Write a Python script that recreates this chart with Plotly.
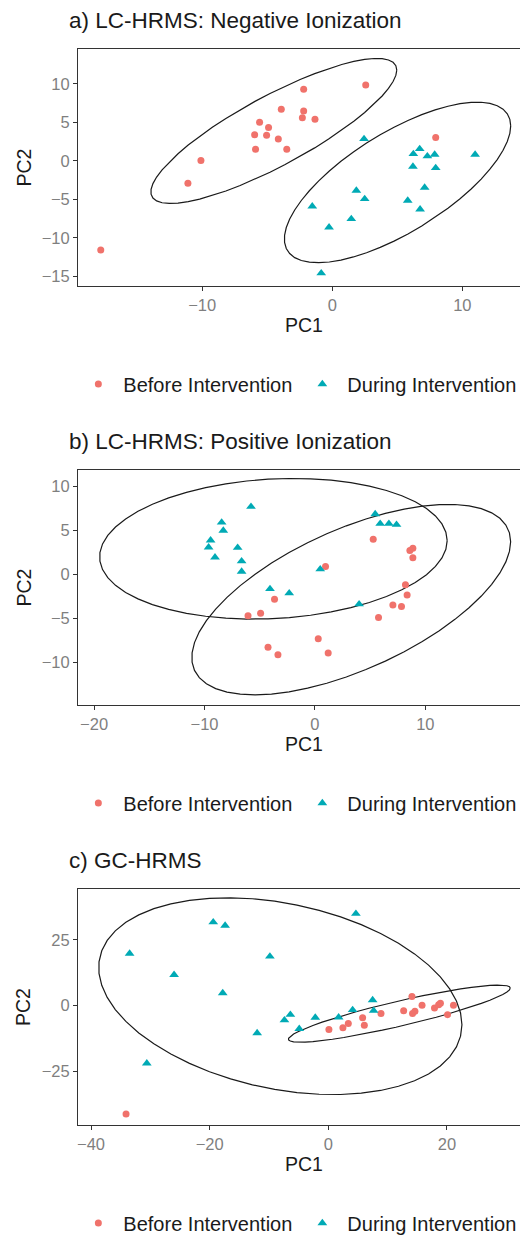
import numpy as np
import plotly.graph_objects as go

# ---------------- data ----------------
groups = ["Before Intervention", "During Intervention"]
titles = ["a) LC-HRMS: Negative Ionization", "b) LC-HRMS: Positive Ionization", "c) GC-HRMS"]

a_before_pc1 = [2.57, -2.2, -3.92, -2.2, -2.3, -1.33, -5.59, -4.9, -5.97, -5.05, -4.15, 7.95, -5.9, -3.5, -10.1, -11.1, -17.8]
a_before_pc2 = [9.86, 9.3, 6.73, 6.5, 5.6, 5.43, 5.04, 4.35, 3.39, 3.35, 2.83, 3.04, 1.52, 1.52, 0.05, -2.9, -11.6]
a_during_pc1 = [2.44, 6.72, 6.23, 7.31, 7.87, 10.98, 6.2, 7.95, 1.85, 7.1, 2.49, 5.8, -1.54, 6.75, 1.46, -0.25, -0.85]
a_during_pc2 = [2.86, 1.56, 0.91, 0.61, 0.83, 0.83, -0.73, -0.91, -3.86, -3.47, -4.95, -5.16, -5.9, -6.29, -7.55, -8.63, -14.6]

b_before_pc1 = [0.96, 5.28, 8.87, 8.6, 8.87, 8.2, 8.35, 7.06, 7.84, 5.76, -3.66, -4.92, -6.06, 0.3, 1.2, -4.25, -3.35]
b_before_pc2 = [0.87, 3.98, 2.95, 2.69, 1.89, -1.21, -2.35, -3.49, -3.67, -4.92, -2.84, -4.43, -4.74, -7.35, -8.98, -8.3, -9.17]
b_during_pc1 = [-5.79, 5.46, 5.91, 6.7, 7.39, -8.45, -8.3, -9.45, -9.63, -9.05, -7.0, -6.64, -6.64, 0.48, -4.07, -2.33, 4.0]
b_during_pc2 = [7.69, 6.86, 5.76, 5.76, 5.64, 5.9, 4.97, 3.86, 3.07, 1.93, 3.03, 1.48, 0.3, 0.57, -1.67, -2.16, -3.41]

c_before_pc1 = [-34.1, 0.1, 2.46, 3.37, 5.78, 6.07, 8.88, 12.7, 14.1, 14.2, 14.6, 15.8, 17.9, 18.6, 18.9, 20.1, 21.1]
c_before_pc2 = [-41.1, -9.0, -8.4, -6.8, -4.6, -7.4, -3.0, -1.9, 3.5, -3.0, -2.1, 0.15, -0.9, 0.4, 0.9, -3.4, 0.15]
c_during_pc1 = [4.65, -19.4, -17.4, -33.5, -9.85, -26.0, -17.8, 7.47, 7.64, 4.1, 1.74, -2.2, -6.4, -7.4, -4.9, -12.0, -30.6]
c_during_pc2 = [34.95, 31.7, 30.4, 19.8, 18.7, 11.7, 4.8, 2.15, -1.9, -1.6, -4.4, -4.5, -3.4, -5.5, -8.8, -10.4, -21.9]

x_ticks = [[-10, 0, 10], [-20, -10, 0, 10], [-40, -20, 0, 20]]
y_ticks = [[-15, -10, -5, 0, 5, 10], [-10, -5, 0, 5, 10], [-25, 0, 25]]
x_ranges = [[-19.55, 15.2], [-21.46, 19.48], [-42.2, 34.0]]
y_ranges = [[-16.27, 14.55], [-14.89, 11.87], [-45.3, 44.3]]

panels = [
    (a_before_pc1, a_before_pc2, a_during_pc1, a_during_pc2),
    (b_before_pc1, b_before_pc2, b_during_pc1, b_during_pc2),
    (c_before_pc1, c_before_pc2, c_during_pc1, c_during_pc2),
]

RED = "#F0726B"
TEAL = "#00AAB5"
FONT = "Liberation Sans, Arial"

W, H = 528, 1235
# pixel layout of the plot areas
PX_L, PX_R = 70, 522
PX_TB = [(41, 278), (462, 697), (881, 1117)]


# ---------------- stat_ellipse (type "t", as ggplot2) ----------------
def cov_trob(x, nu=5, maxit=25, tol=0.01):
    n, p = x.shape
    loc = x.mean(axis=0)
    w = np.ones(n)
    X = x - loc
    for _ in range(maxit):
        w0 = w
        X = x - loc
        sw = np.sqrt(w / w.sum())
        _, d, vt = np.linalg.svd(sw[:, None] * X, full_matrices=False)
        wX = X @ vt.T @ np.diag(1.0 / d)
        Q = (wX ** 2).sum(axis=1)
        w = (nu + p) / (nu + Q)
        loc = (w[:, None] * x).sum(axis=0) / w.sum()
        if np.all(np.abs(w - w0) < tol):
            break
    sX = np.sqrt(w)[:, None] * X
    cov = sX.T @ sX / n
    return loc, cov


def stat_ellipse(xs, ys, level=0.95, segments=51):
    data = np.column_stack([xs, ys]).astype(float)
    n = data.shape[0]
    center, shape = cov_trob(data)
    chol = np.linalg.cholesky(shape).T
    dfd = n - 1
    fq = dfd / 2.0 * ((1 - level) ** (-2.0 / dfd) - 1)
    radius = np.sqrt(2 * fq)
    ang = np.arange(segments + 1) * 2 * np.pi / segments
    uc = np.column_stack([np.cos(ang), np.sin(ang)])
    e = center + radius * (uc @ chol)
    return e[:, 0], e[:, 1]


fig = go.Figure()
annotations = []
layout_axes = {}
legend_names = ["legend", "legend2", "legend3"]
legend_layout = {}

for i, (bx, by, dx, dy) in enumerate(panels):
    xa = "x" if i == 0 else f"x{i+1}"
    ya = "y" if i == 0 else f"y{i+1}"
    lg = legend_names[i]
    top, bot = PX_TB[i]

    for gx, gy in [(bx, by), (dx, dy)]:
        ex, ey = stat_ellipse(gx, gy)
        fig.add_trace(go.Scatter(x=ex, y=ey, mode="lines", xaxis=xa, yaxis=ya,
                                 line=dict(color="#1a1a1a", width=1.2),
                                 showlegend=False, hoverinfo="skip"))

    fig.add_trace(go.Scatter(x=bx, y=by, mode="markers", name=groups[0], xaxis=xa, yaxis=ya,
                             marker=dict(symbol="circle", size=7, color=RED),
                             legend=lg))
    fig.add_trace(go.Scatter(x=dx, y=dy, mode="markers", name=groups[1], xaxis=xa, yaxis=ya,
                             marker=dict(symbol="triangle-up", size=8.5, color=TEAL),
                             legend=lg))

    axkey = "" if i == 0 else str(i + 1)
    common = dict(showline=True, linecolor="#333333", linewidth=1, mirror=True,
                  ticks="outside", ticklen=4, tickcolor="#333333", tickwidth=1,
                  showgrid=False, zeroline=False,
                  tickfont=dict(family=FONT, size=16.5, color="#7f7f7f"))
    layout_axes[f"xaxis{axkey}"] = dict(common, domain=[PX_L / W, PX_R / W], range=x_ranges[i],
                                        tickvals=x_ticks[i], anchor=ya)
    layout_axes[f"yaxis{axkey}"] = dict(common, domain=[1 - bot / H, 1 - top / H], range=y_ranges[i],
                                        tickvals=y_ticks[i], anchor=xa)

    # panel title
    annotations.append(dict(text=titles[i], xref="paper", yref="paper", x=59 / W,
                            y=1 - (top - 29) / H, xanchor="left", yanchor="middle", showarrow=False,
                            font=dict(family=FONT, size=22.5, color="#1a1a1a")))
    # axis titles
    annotations.append(dict(text="PC1", xref="paper", yref="paper", x=(PX_L + PX_R) / 2 / W,
                            y=1 - (bot + 39) / H, xanchor="center", yanchor="middle", showarrow=False,
                            font=dict(family=FONT, size=19.5, color="#1a1a1a")))
    annotations.append(dict(text="PC2", xref="paper", yref="paper", x=15 / W,
                            y=1 - (top + bot) / 2 / H, xanchor="center", yanchor="middle", showarrow=False,
                            textangle=-90,
                            font=dict(family=FONT, size=19.5, color="#1a1a1a")))

    legend_layout[lg] = dict(orientation="h", x=0.548, y=1 - (bot + 98) / H, xanchor="center",
                             yanchor="middle", bgcolor="rgba(0,0,0,0)",
                             font=dict(family=FONT, size=20, color="#1a1a1a"),
                             itemwidth=40)

fig.update_layout(width=W, height=H, margin=dict(l=0, r=0, t=0, b=0),
                  paper_bgcolor="white", plot_bgcolor="white",
                  annotations=annotations, **layout_axes, **legend_layout)

fig.write_html("out.html")
